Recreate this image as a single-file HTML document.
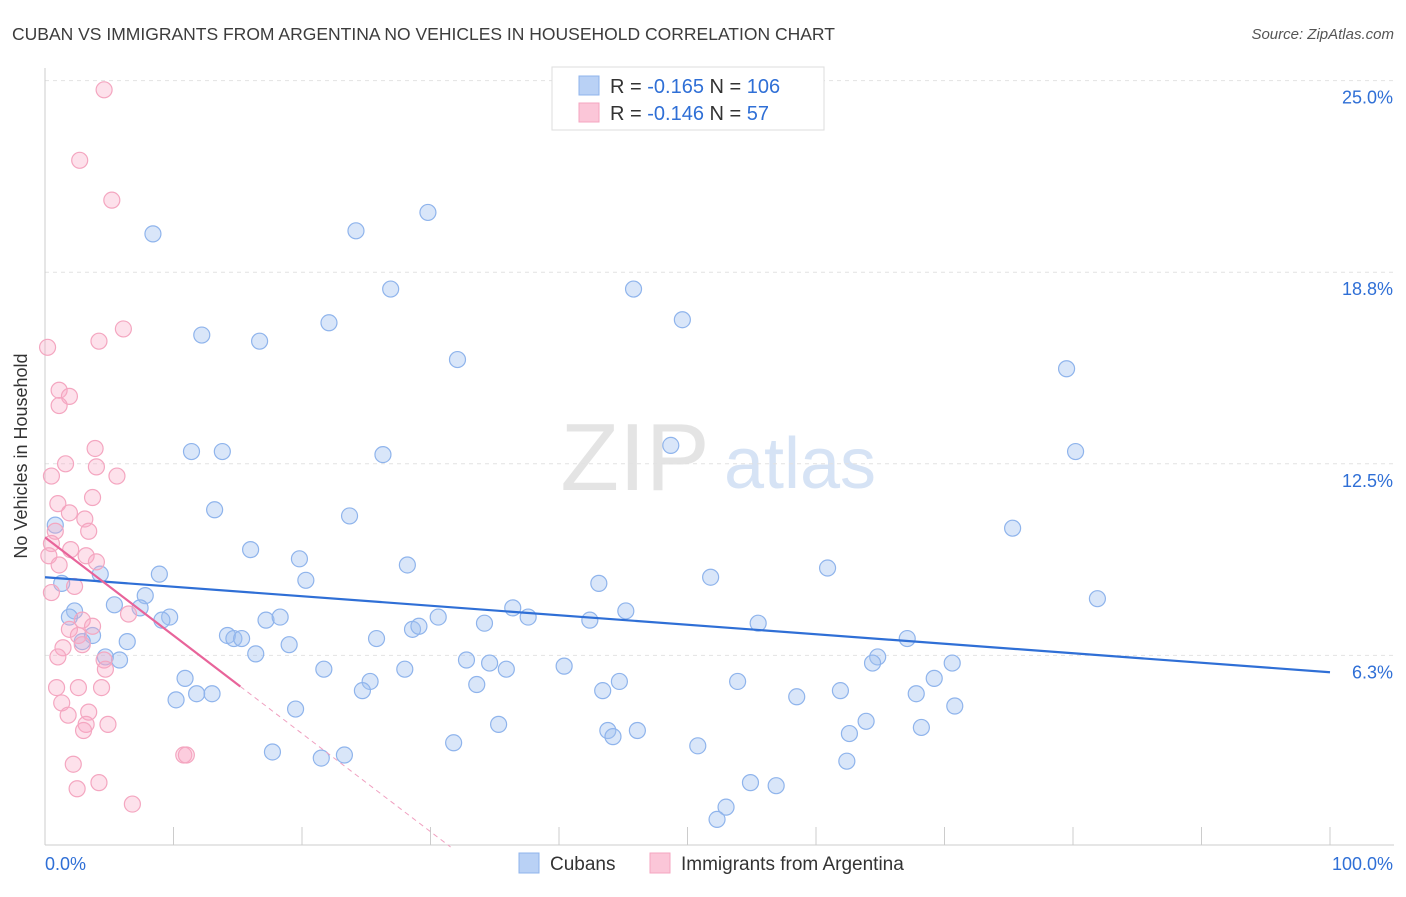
<!DOCTYPE html>
<html><head><meta charset="utf-8"><style>
body{margin:0;background:#fff;font-family:"Liberation Sans",sans-serif;}
svg text{font-family:"Liberation Sans",sans-serif;}
</style></head><body>
<svg id="c" width="1406" height="892" xmlns="http://www.w3.org/2000/svg">
<text x="12" y="40" font-size="17.5" fill="#3c3c3c">CUBAN VS IMMIGRANTS FROM ARGENTINA NO VEHICLES IN HOUSEHOLD CORRELATION CHART</text>
<text x="1394" y="39" font-size="15" fill="#555" text-anchor="end" font-style="italic">Source: ZipAtlas.com</text>
<text x="27" y="456" font-size="18" fill="#333" text-anchor="middle" transform="rotate(-90 27 456)">No Vehicles in Household</text>
<g><text x="635" y="490" font-size="96" fill="#e4e4e4" text-anchor="middle" font-family="Liberation Serif,serif">ZIP</text><text x="800" y="488" font-size="72" fill="#d6e3f5" text-anchor="middle">atlas</text></g>
<g id="grid"></g><g id="axes"></g><g id="pts"></g><g id="trend"></g>
<g>
<rect x="552" y="67" width="272" height="63" fill="#fff" stroke="#ddd"/>
<rect x="579" y="76" width="20" height="19" fill="#b9d1f5" stroke="#8fb4ec"/>
<rect x="579" y="103" width="20" height="19" fill="#fbc6d8" stroke="#f4a6c0"/>
<text x="610" y="93" font-size="20" fill="#333">R = <tspan fill="#2f6fd6">-0.165</tspan>   N = <tspan fill="#2f6fd6">106</tspan></text>
<text x="610" y="120" font-size="20" fill="#333">R = <tspan fill="#2f6fd6">-0.146</tspan>   N =   <tspan fill="#2f6fd6">57</tspan></text>
</g>
<g>
<rect x="519" y="853" width="20" height="20" fill="#b9d1f5" stroke="#8fb4ec"/>
<text x="550" y="870" font-size="19" fill="#333">Cubans</text>
<rect x="650" y="853" width="20" height="20" fill="#fbc6d8" stroke="#f4a6c0"/>
<text x="681" y="870" font-size="19" fill="#333">Immigrants from Argentina</text>
</g>
</svg>
<script>
const yTicks=[6.25,12.5,18.75,25];
const yTickLabels=["6.3%","12.5%","18.8%","25.0%"];
const xTickLabels=["0.0%","100.0%"];
const blueX=[8.4,24.2,29.8,26.9,45.8,49.6,22.1,12.2,16.7,32.1,79.5,48.7,11.4,13.8,26.3,80.2,13.2,23.7,75.3,0.8,16.0,19.8,28.2,8.9,20.3,51.8,43.1,60.9,81.9,4.3,1.3,7.8,5.4,7.4,2.3,1.9,9.7,9.1,17.2,18.3,30.6,36.4,37.6,42.4,45.2,34.2,28.6,29.1,55.5,3.7,2.9,6.4,14.2,14.7,15.3,25.8,19.0,67.1,16.4,4.7,5.8,32.8,34.6,35.9,40.4,64.8,64.4,70.6,21.7,28.0,10.9,25.3,24.7,33.6,44.7,53.9,69.2,13.0,11.8,10.2,43.4,58.5,61.9,67.8,70.8,19.5,63.9,35.3,43.8,44.2,46.1,62.6,68.2,31.8,50.8,17.7,21.5,23.3,62.4,54.9,56.9,53.0,52.3];
const blueY=[20.0,20.1,20.7,18.2,18.2,17.2,17.1,16.7,16.5,15.9,15.6,13.1,12.9,12.9,12.8,12.9,11.0,10.8,10.4,10.5,9.7,9.4,9.2,8.9,8.7,8.8,8.6,9.1,8.1,8.9,8.6,8.2,7.9,7.8,7.7,7.5,7.5,7.4,7.4,7.5,7.5,7.8,7.5,7.4,7.7,7.3,7.1,7.2,7.3,6.9,6.7,6.7,6.9,6.8,6.8,6.8,6.6,6.8,6.3,6.2,6.1,6.1,6.0,5.8,5.9,6.2,6.0,6.0,5.8,5.8,5.5,5.4,5.1,5.3,5.4,5.4,5.5,5.0,5.0,4.8,5.1,4.9,5.1,5.0,4.6,4.5,4.1,4.0,3.8,3.6,3.8,3.7,3.9,3.4,3.3,3.1,2.9,3.0,2.8,2.1,2.0,1.3,0.9];
const pinkX=[4.6,2.7,5.2,6.1,4.2,0.2,1.1,1.9,1.1,3.9,1.6,4.0,5.6,0.5,3.7,1.0,1.9,3.1,3.4,0.8,0.5,2.0,3.2,4.0,0.3,1.1,0.5,2.3,6.5,2.9,1.9,3.7,2.6,2.9,1.4,4.6,1.0,4.7,0.9,2.6,4.4,1.3,3.4,1.8,4.9,3.2,3.0,10.8,11.0,2.2,2.5,4.2,6.8];
const pinkY=[24.7,22.4,21.1,16.9,16.5,16.3,14.9,14.7,14.4,13.0,12.5,12.4,12.1,12.1,11.4,11.2,10.9,10.7,10.3,10.3,9.9,9.7,9.5,9.3,9.5,9.2,8.3,8.5,7.6,7.4,7.1,7.2,6.9,6.6,6.5,6.1,6.2,5.8,5.2,5.2,5.2,4.7,4.4,4.3,4.0,4.0,3.8,3.0,3.0,2.7,1.9,2.1,1.4];
const blueTrend=[8.8,5.7];
const pinkTrend=[10.1,-0.32];
const NS="http://www.w3.org/2000/svg";
const X0=45,X1=1330,Y0=847,YS=191.6/6.25;
const sx=v=>X0+(X1-X0)*v/100, sy=v=>Y0-v*YS;
function mk(tag,attrs,parent){const e=document.createElementNS(NS,tag);for(const k in attrs)e.setAttribute(k,attrs[k]);parent.appendChild(e);return e;}
const grid=document.getElementById('grid'),axes=document.getElementById('axes'),pts=document.getElementById('pts'),tr=document.getElementById('trend');
yTicks.forEach((t,i)=>{
 const l=mk('line',{x1:X0,x2:1394,y1:sy(t),y2:sy(t),stroke:'#e2e2e2','stroke-dasharray':'4,4'},grid);
 
 
 const tx=mk('text',{x:1393,y:sy(t)+23,'font-size':18,fill:'#2f6fd6','text-anchor':'end'},grid);
 tx.textContent=yTickLabels[i];
 
 
});
const xa=mk('line',{x1:X0,x2:1394,y1:845,y2:845,stroke:'#ccc'},axes);


const ya=mk('line',{x1:X0,x2:X0,y1:68,y2:845,stroke:'#ccc'},axes);


for(let i=0;i<=10;i++){const t=mk('line',{x1:sx(i*10),x2:sx(i*10),y1:827,y2:845,stroke:'#ccc'},axes);
 
 }
const l0=mk('text',{x:45,y:870,'font-size':18,fill:'#2f6fd6'},axes);l0.textContent=xTickLabels[0];


const l1=mk('text',{x:1393,y:870,'font-size':18,fill:'#2f6fd6','text-anchor':'end'},axes);l1.textContent=xTickLabels[1];


blueX.forEach((v,i)=>{const c=mk('circle',{cx:sx(v),cy:sy(blueY[i]),r:8,fill:'rgba(160,192,240,0.4)',stroke:'#8fb4ec','stroke-width':1.2},pts);
 
 });
pinkX.forEach((v,i)=>{const c=mk('circle',{cx:sx(v),cy:sy(pinkY[i]),r:8,fill:'rgba(249,170,198,0.35)',stroke:'#f4a6c0','stroke-width':1.2},pts);
 
 });
const bl=mk('line',{x1:sx(0),y1:sy(blueTrend[0]),x2:sx(100),y2:sy(blueTrend[1]),stroke:'#2f6fd6','stroke-width':2.2},tr);


const pEnd=15.2,pZero=-pinkTrend[0]/pinkTrend[1];
const pl=mk('line',{x1:sx(0),y1:sy(pinkTrend[0]),x2:sx(pEnd),y2:sy(pinkTrend[0]+pinkTrend[1]*pEnd),stroke:'#e8649a','stroke-width':2.2},tr);


const pd=mk('line',{x1:sx(pEnd),y1:sy(pinkTrend[0]+pinkTrend[1]*pEnd),x2:sx(pZero),y2:sy(0),stroke:'#f0a0c0','stroke-width':1,'stroke-dasharray':'5,4'},tr);


</script>
</body></html>
